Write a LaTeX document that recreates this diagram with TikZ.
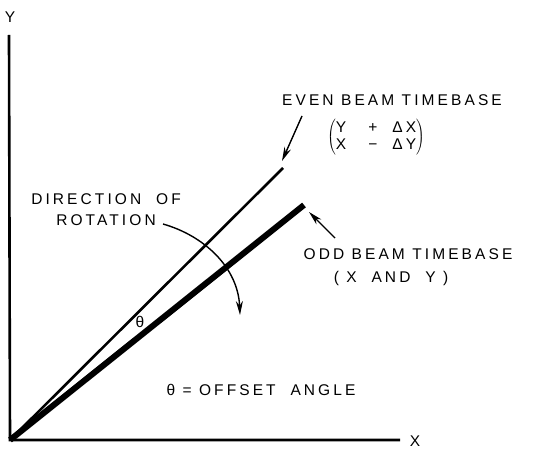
\documentclass[tikz,border=0pt]{standalone}
\usepackage{fontspec}
\setmainfont{Liberation Sans}[LetterSpace=20]
\usetikzlibrary{positioning, arrows.meta}

\begin{document}
\begin{tikzpicture}[x=1pt, y=-1pt,
    axis/.style={line width=2.6pt},
    beam/.style={line width=2.6pt},
    oddbeam/.style={line width=6pt},
    arr/.style={-{Stealth[length=14pt, width=7pt]}, line width=1.4pt},
    lbl/.style={font=\fontsize{15.5}{21}\selectfont, inner sep=1pt, align=center}
  ]
  \useasboundingbox (0,0) rectangle (534,449);

  % axes
  \coordinate (o) at (10,440);
  \coordinate (ytop) at (9,35);
  \coordinate (xend) at (400,440);
  \node[lbl] (ylab) at (10,17) {Y};
  \node[lbl, inner sep=0pt] (xlab) at (415,441) {X};
  \draw[axis] (ytop) -- (o) -- (xend);

  % timebases
  \coordinate (evenend) at (283,168);
  \coordinate (oddend) at (304,205);
  \draw[beam] (o) -- (evenend);
  \draw[oddbeam] (o) -- (oddend);

  % labels
  \node[lbl] (evenlab) at (392,100) {EVEN BEAM TIMEBASE};
  \node[lbl] (evenexpr) at (376,137)
    {$\left(\mbox{\begin{tabular}{@{}c@{}}Y \ \ + \ ΔX\\[-4pt]X \ \ − \ ΔY\end{tabular}}\right)$};
  \node[lbl] (oddlab) at (408,254) {ODD BEAM TIMEBASE};
  \node[lbl] (oddexpr) at (391,278) {( X \ AND \ Y )};
  \node[lbl] (rotlab) at (106,210) {DIRECTION \ OF\\ROTATION};
  \node[lbl] (theta) at (140,322) {θ};
  \node[lbl] (anglelab) at (261,390) {θ = OFFSET \ ANGLE};

  % pointers
  \coordinate (evenfrom) at (302,116);
  \coordinate (evento) at (282,161);
  \coordinate (oddfrom) at (335,238);
  \coordinate (oddto) at (309,212);
  \coordinate (rotfrom) at (163,224);
  \coordinate (rotto) at (240,315);
  \draw[arr] (evenfrom) -- (evento);
  \draw[arr] (oddfrom) -- (oddto);
  \draw[arr] (rotfrom) .. controls (205,236) and (238,268) .. (rotto);
\end{tikzpicture}
\end{document}
